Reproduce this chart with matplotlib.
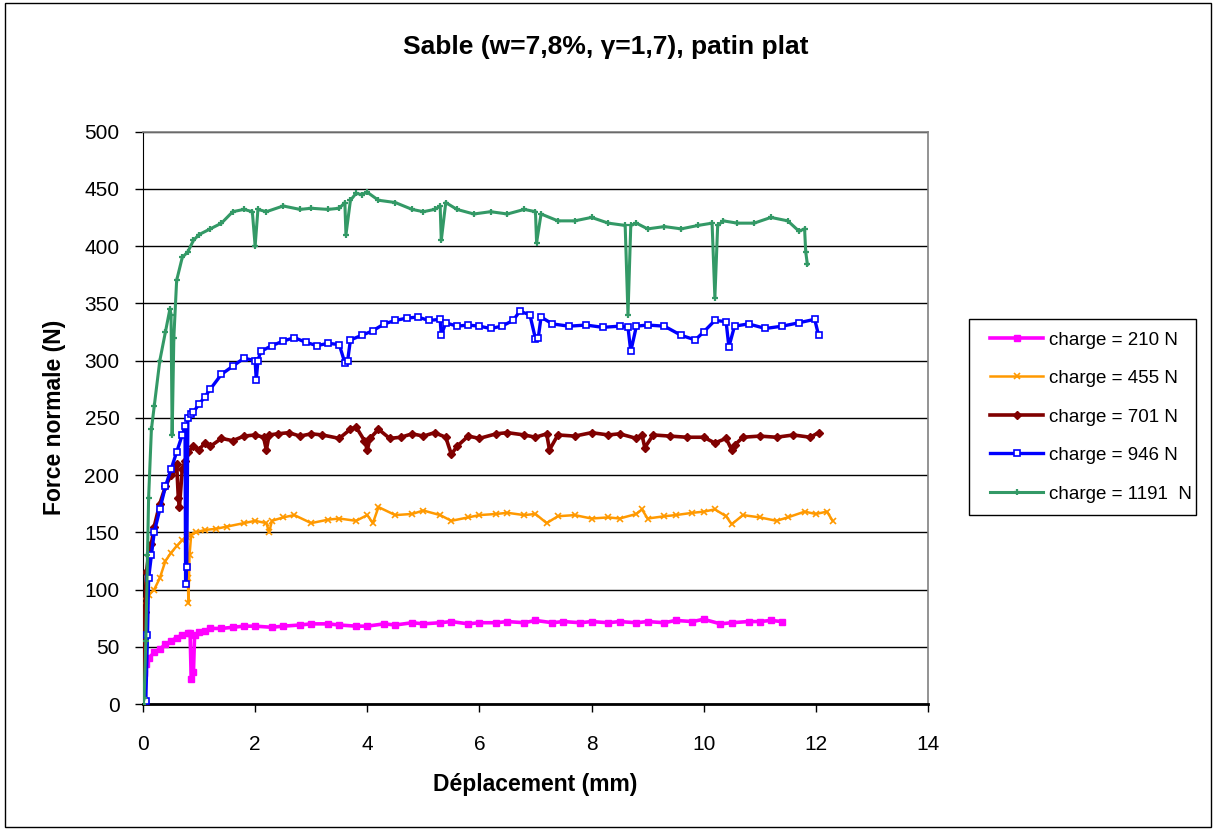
import matplotlib
matplotlib.use("Agg")
import matplotlib.pyplot as plt
from matplotlib.patches import Rectangle

plt.rcParams['font.family'] = ['Liberation Sans', 'DejaVu Sans']

# ---- data ----
x_210 = [0.0, 0.02, 0.05, 0.1, 0.2, 0.3, 0.4, 0.5, 0.6, 0.7, 0.8, 0.84, 0.86, 0.9, 0.92, 1.0, 1.1, 1.2,
         1.4, 1.6, 1.8, 2.0, 2.3, 2.5, 2.8, 3.0, 3.3, 3.5, 3.8, 4.0, 4.3, 4.5, 4.8, 5.0, 5.3, 5.5,
         5.8, 6.0, 6.3, 6.5, 6.8, 7.0, 7.3, 7.5, 7.8, 8.0, 8.3, 8.5, 8.8, 9.0, 9.3, 9.5, 9.8, 10.0,
         10.3, 10.5, 10.8, 11.0, 11.2, 11.4]
y_210 = [5, 27, 35, 40, 45, 48, 52, 55, 58, 60, 62, 62, 22, 28, 60, 63, 64, 66,
         66, 67, 68, 68, 67, 68, 69, 70, 70, 69, 68, 68, 70, 69, 71, 70, 71, 72,
         70, 71, 71, 72, 71, 73, 71, 72, 71, 72, 71, 72, 71, 72, 71, 73, 72, 74,
         70, 71, 72, 72, 73, 72]

x_455 = [0.0, 0.03, 0.06, 0.1, 0.2, 0.3, 0.4, 0.5, 0.6, 0.7, 0.78, 0.8, 0.81, 0.83, 0.86, 0.95, 1.1,
         1.3, 1.5, 1.8, 2.0, 2.2, 2.25, 2.3, 2.5, 2.7, 3.0, 3.3, 3.5, 3.8, 4.0, 4.1, 4.2, 4.5,
         4.8, 5.0, 5.3, 5.5, 5.8, 6.0, 6.3, 6.5, 6.8, 7.0, 7.2, 7.4, 7.7, 8.0, 8.3, 8.5, 8.8,
         8.9, 9.0, 9.3, 9.5, 9.8, 10.0, 10.2, 10.4, 10.5, 10.7, 11.0, 11.3, 11.5, 11.8, 12.0, 12.2, 12.3]
y_455 = [0, 60, 90, 95, 100, 110, 125, 132, 138, 143, 146, 110, 88, 130, 148, 150, 152,
         153, 155, 158, 160, 158, 150, 160, 163, 165, 158, 161, 162, 160, 165, 158, 172, 165,
         166, 169, 165, 160, 163, 165, 166, 167, 165, 166, 158, 164, 165, 162, 163, 162, 166,
         170, 162, 164, 165, 167, 168, 170, 164, 157, 165, 163, 160, 163, 168, 166, 168, 160]

x_701 = [0.0, 0.03, 0.06, 0.1, 0.15, 0.2, 0.3, 0.4, 0.5, 0.55, 0.6, 0.63, 0.65, 0.7, 0.75, 0.8, 0.9,
         1.0, 1.1, 1.2, 1.4, 1.6, 1.8, 2.0, 2.15, 2.2, 2.25, 2.4, 2.6, 2.8, 3.0, 3.2, 3.5, 3.7,
         3.8, 3.95, 4.0, 4.05, 4.2, 4.4, 4.6, 4.8, 5.0, 5.2, 5.4, 5.5, 5.6, 5.8, 6.0, 6.3, 6.5,
         6.8, 7.0, 7.2, 7.25, 7.4, 7.7, 8.0, 8.3, 8.5, 8.8, 8.9, 8.95, 9.1, 9.4, 9.7, 10.0,
         10.2, 10.4, 10.5, 10.55, 10.7, 11.0, 11.3, 11.6, 11.9, 12.05]
y_701 = [0, 80, 115, 130, 140, 155, 175, 190, 200, 205, 210, 180, 172, 205, 212, 220, 225,
         222, 228, 225, 232, 230, 234, 235, 233, 222, 235, 236, 237, 234, 236, 235, 232, 240,
         242, 230, 222, 232, 240, 232, 233, 236, 234, 237, 233, 218, 225, 234, 232, 236, 237,
         235, 233, 236, 222, 235, 234, 237, 235, 236, 232, 235, 224, 235, 234, 233, 233,
         228, 232, 222, 226, 233, 234, 233, 235, 233, 237]

x_946 = [0.0, 0.05, 0.08, 0.1, 0.15, 0.2, 0.3, 0.4, 0.5, 0.6, 0.7, 0.75, 0.76, 0.78, 0.8, 0.85,
         0.9, 1.0, 1.1, 1.2, 1.4, 1.6, 1.8, 2.0, 2.02, 2.05, 2.1, 2.3, 2.5, 2.7, 2.9, 3.1, 3.3,
         3.5, 3.6, 3.65, 3.7, 3.9, 4.1, 4.3, 4.5, 4.7, 4.9, 5.1, 5.3, 5.32, 5.4, 5.6, 5.8, 6.0,
         6.2, 6.4, 6.6, 6.72, 6.9, 7.0, 7.05, 7.1, 7.3, 7.6, 7.9, 8.2, 8.5, 8.65, 8.7, 8.8,
         9.0, 9.3, 9.6, 9.85, 10.0, 10.2, 10.4, 10.45, 10.55, 10.8, 11.1, 11.4, 11.7, 11.98, 12.05]
y_946 = [0, 3, 60, 110, 130, 150, 170, 190, 205, 220, 235, 243, 105, 120, 250, 253,
         255, 262, 268, 275, 288, 295, 302, 300, 283, 300, 308, 313, 317, 320, 316, 313, 315,
         314, 298, 300, 318, 322, 326, 332, 335, 337, 338, 335, 336, 322, 333, 330, 331, 330,
         328, 330, 335, 343, 340, 319, 320, 338, 332, 330, 331, 329, 330, 329, 308, 330,
         331, 330, 322, 318, 325, 335, 334, 312, 330, 332, 328, 330, 333, 336, 322]

x_1191 = [0.0, 0.02, 0.05, 0.08, 0.1, 0.15, 0.2, 0.3, 0.4, 0.48, 0.5, 0.52, 0.55, 0.6, 0.7,
          0.8, 0.9, 1.0, 1.2, 1.4, 1.6, 1.8, 1.95, 2.0, 2.05, 2.2, 2.5, 2.8, 3.0, 3.3, 3.5,
          3.6, 3.62, 3.7, 3.8, 3.9, 4.0, 4.2, 4.5, 4.8, 5.0, 5.2, 5.3, 5.32, 5.4, 5.6, 5.9,
          6.2, 6.5, 6.8, 7.0, 7.02, 7.1, 7.4, 7.7, 8.0, 8.3, 8.6, 8.65, 8.7, 8.8, 9.0, 9.3,
          9.6, 9.9, 10.15, 10.2, 10.25, 10.35, 10.6, 10.9, 11.2, 11.5, 11.7, 11.8, 11.82, 11.85]
y_1191 = [0, 5, 55, 130, 180, 240, 260, 300, 325, 345, 340, 235, 320, 370, 390,
          395, 405, 410, 415, 420, 430, 432, 430, 400, 432, 430, 435, 432, 433, 432, 433,
          438, 410, 440, 446, 445, 447, 440, 438, 432, 430, 432, 435, 405, 438, 432, 428,
          430, 428, 432, 430, 403, 428, 422, 422, 425, 420, 418, 340, 418, 420, 415, 417,
          415, 418, 420, 355, 418, 422, 420, 420, 425, 422, 413, 415, 395, 384]

series_labels = ['charge = 210 N', 'charge = 455 N', 'charge = 701 N', 'charge = 946 N', 'charge = 1191  N']

xticks = [0, 2, 4, 6, 8, 10, 12, 14]
yticks = [0, 50, 100, 150, 200, 250, 300, 350, 400, 450, 500]

# ---- figure ----
fig = plt.figure(figsize=(12.16, 8.3), dpi=100)
fig.patches.append(Rectangle((0.004, 0.004), 0.992, 0.992, transform=fig.transFigure,
                             fill=False, edgecolor='black', linewidth=1.0))
ax = fig.add_axes([0.1176, 0.1518, 0.6455, 0.6897])

ax.plot(x_210, y_210, color='#ff00ff', lw=2.6, marker='s', ms=5, label=series_labels[0], zorder=3)
ax.plot(x_455, y_455, color='#ff9900', lw=1.8, marker='x', ms=4, mew=1.2, label=series_labels[1], zorder=3)
ax.plot(x_701, y_701, color='#800000', lw=2.6, marker='D', ms=4, label=series_labels[2], zorder=3)
ax.plot(x_946, y_946, color='#0000ff', lw=2.4, marker='s', ms=4.5, mfc='white', mec='#0000ff', mew=1.2,
        label=series_labels[3], zorder=3)
ax.plot(x_1191, y_1191, color='#339966', lw=2.2, marker='+', ms=4.5, mew=1.6, label=series_labels[4], zorder=3)

ax.set_xlim(0, 14)
ax.set_ylim(0, 500)
ax.set_xticks(xticks)
ax.set_yticks(yticks)
ax.tick_params(axis='both', direction='out', length=6, width=1, labelsize=15, color='black')
ax.tick_params(axis='x', pad=16)
ax.tick_params(axis='y', pad=11)
ax.grid(axis='y', color='black', linewidth=1.0, zorder=0)
ax.set_axisbelow(True)
for side in ['top', 'right']:
    ax.spines[side].set_color('#808080')
    ax.spines[side].set_linewidth(1.2)
ax.spines['left'].set_color('black')
ax.spines['bottom'].set_color('black')
ax.spines['bottom'].set_linewidth(2.0)

ax.set_xlabel('Déplacement (mm)', fontsize=16.5, fontweight='bold', labelpad=14)
ax.set_ylabel('Force normale (N)', fontsize=16.5, fontweight='bold', labelpad=13)
fig.text(0.498, 0.943, 'Sable (w=7,8%, γ=1,7), patin plat', fontsize=19, fontweight='bold',
         ha='center', va='center')

# legend frame drawn separately to match the reference box
fig.patches.append(Rectangle((0.7969, 0.3795), 0.1867, 0.2362, transform=fig.transFigure,
                             fill=False, edgecolor='black', linewidth=1.0))
leg = fig.legend(loc='center left', bbox_to_anchor=(0.8141, 0.4976), fontsize=13.5,
                 frameon=False, labelspacing=1.14,
                 handlelength=2.85, handletextpad=0.3, borderpad=0.0, borderaxespad=0)

fig.savefig('out.png', dpi=100)
